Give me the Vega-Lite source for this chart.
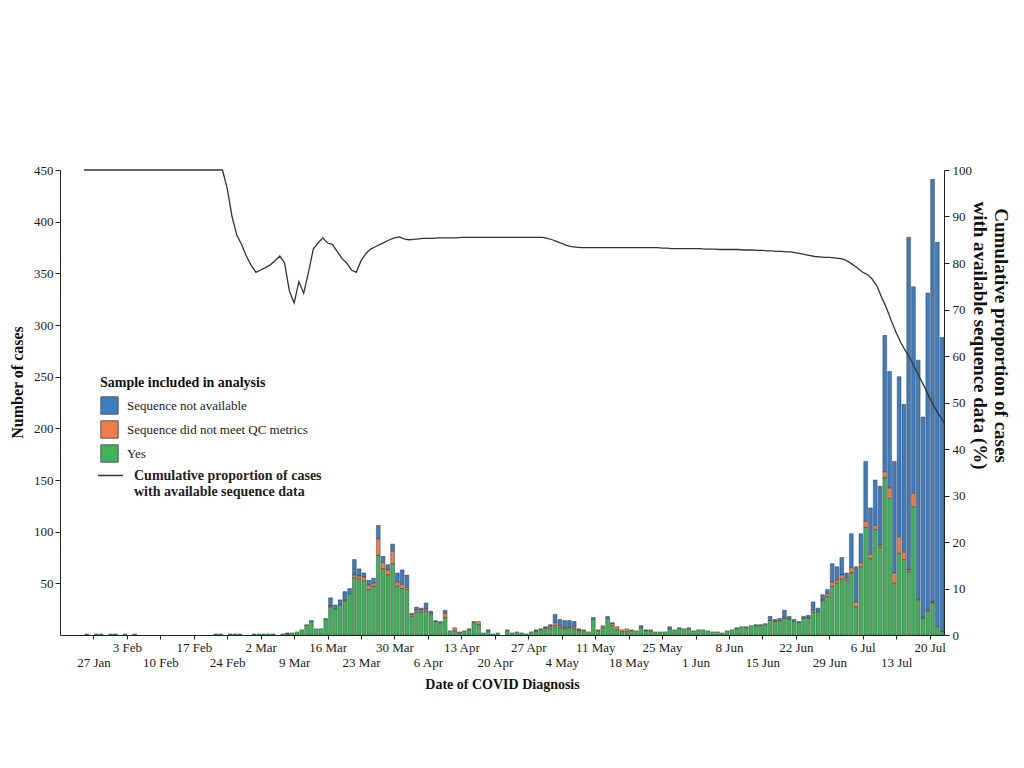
{
 "$schema": "https://vega.github.io/schema/vega-lite/v6.json",
 "width": 884,
 "height": 465,
 "autosize": {"type": "none"},
 "padding": {"left": 60, "top": 170, "right": 80, "bottom": 133},
 "background": "white",
 "config": {
  "view": {"stroke": null},
  "font": "Liberation Serif",
  "axis": {"grid": false, "domainColor": "#222", "tickColor": "#222", "labelColor": "#1a1a1a", "titleColor": "#111", "labelFont": "Liberation Serif", "titleFont": "Liberation Serif", "titleFontWeight": "bold", "labelFontSize": 13, "tickSize": 5},
  "axisX": {
   "title": "Date of COVID Diagnosis", "titleFontSize": 14, "titlePadding": 8,
   "tickSize": 4, "labelPadding": 2, "labelOverlap": false, "labelFlush": false, "labelBound": false, "labelLineHeight": 15,
   "labelExpr": "(round((datum.value - 1580083200000) / 604800000) % 2 == 0) ? ['', utcFormat(datum.value, '%-d %b')] : utcFormat(datum.value, '%-d %b')"
  },
  "legend": {"labelFont": "Liberation Serif", "titleFont": "Liberation Serif", "labelColor": "#222", "titleColor": "#111", "labelLimit": 400}
 },
 "data": {"values": [
  {"d":"2020-01-25","y":1,"q":0,"n":0,"p":100},
  {"d":"2020-01-27","y":1,"q":0,"n":0,"p":100},
  {"d":"2020-01-28","y":1,"q":0,"n":0,"p":100},
  {"d":"2020-01-30","y":1,"q":0,"n":0,"p":100},
  {"d":"2020-01-31","y":1,"q":0,"n":0,"p":100},
  {"d":"2020-02-02","y":1,"q":0,"n":0,"p":100},
  {"d":"2020-02-04","y":1,"q":0,"n":0,"p":100},
  {"d":"2020-02-21","y":1,"q":0,"n":0,"p":100},
  {"d":"2020-02-22","y":1,"q":0,"n":0,"p":100},
  {"d":"2020-02-23","y":0,"q":0,"n":0,"p":100},
  {"d":"2020-02-24","y":0,"q":0,"n":1,"p":96},
  {"d":"2020-02-25","y":1,"q":0,"n":0,"p":90},
  {"d":"2020-02-26","y":0,"q":0,"n":1,"p":86},
  {"d":"2020-02-27","y":0,"q":0,"n":0,"p":84},
  {"d":"2020-02-28","y":0,"q":0,"n":0,"p":81.5},
  {"d":"2020-02-29","y":0,"q":0,"n":1,"p":79.5},
  {"d":"2020-03-01","y":1,"q":0,"n":0,"p":78},
  {"d":"2020-03-02","y":1,"q":0,"n":0,"p":78.5},
  {"d":"2020-03-03","y":1,"q":0,"n":0,"p":79},
  {"d":"2020-03-04","y":1,"q":0,"n":0,"p":79.6},
  {"d":"2020-03-05","y":0,"q":0,"n":0,"p":80.5},
  {"d":"2020-03-06","y":0,"q":0,"n":1,"p":81.5},
  {"d":"2020-03-07","y":1,"q":0,"n":1,"p":80},
  {"d":"2020-03-08","y":2,"q":0,"n":0,"p":74},
  {"d":"2020-03-09","y":3,"q":0,"n":0,"p":71.4},
  {"d":"2020-03-10","y":5,"q":0,"n":0,"p":76},
  {"d":"2020-03-11","y":9,"q":1,"n":0,"p":73.5},
  {"d":"2020-03-12","y":13,"q":0,"n":1,"p":78},
  {"d":"2020-03-13","y":6,"q":0,"n":0,"p":83},
  {"d":"2020-03-14","y":6,"q":0,"n":0,"p":84.3},
  {"d":"2020-03-15","y":15,"q":0,"n":1,"p":85.4},
  {"d":"2020-03-16","y":27,"q":1,"n":8,"p":84.3},
  {"d":"2020-03-17","y":25,"q":0,"n":4,"p":84},
  {"d":"2020-03-18","y":29,"q":0,"n":5,"p":82.5},
  {"d":"2020-03-19","y":33,"q":1,"n":8,"p":81},
  {"d":"2020-03-20","y":40,"q":0,"n":5,"p":80},
  {"d":"2020-03-21","y":55,"q":3,"n":15,"p":78.5},
  {"d":"2020-03-22","y":54,"q":3,"n":7,"p":78},
  {"d":"2020-03-23","y":52,"q":4,"n":4,"p":80.5},
  {"d":"2020-03-24","y":44,"q":4,"n":5,"p":82},
  {"d":"2020-03-25","y":47,"q":3,"n":5,"p":83},
  {"d":"2020-03-26","y":77,"q":16,"n":13,"p":83.5},
  {"d":"2020-03-27","y":64,"q":6,"n":6,"p":84},
  {"d":"2020-03-28","y":58,"q":5,"n":5,"p":84.5},
  {"d":"2020-03-29","y":69,"q":12,"n":7,"p":85},
  {"d":"2020-03-30","y":47,"q":4,"n":9,"p":85.4},
  {"d":"2020-03-31","y":45,"q":4,"n":14,"p":85.6},
  {"d":"2020-04-01","y":44,"q":2,"n":12,"p":85.2},
  {"d":"2020-04-02","y":18,"q":2,"n":1,"p":85},
  {"d":"2020-04-03","y":22,"q":2,"n":3,"p":85.1},
  {"d":"2020-04-04","y":22,"q":2,"n":2,"p":85.2},
  {"d":"2020-04-05","y":23,"q":2,"n":6,"p":85.3},
  {"d":"2020-04-06","y":20,"q":1,"n":2,"p":85.3},
  {"d":"2020-04-07","y":13,"q":0,"n":1,"p":85.3},
  {"d":"2020-04-08","y":12,"q":1,"n":0,"p":85.4},
  {"d":"2020-04-09","y":17,"q":4,"n":3,"p":85.4},
  {"d":"2020-04-10","y":4,"q":0,"n":0,"p":85.4},
  {"d":"2020-04-11","y":4,"q":3,"n":0,"p":85.4},
  {"d":"2020-04-12","y":2,"q":1,"n":0,"p":85.4},
  {"d":"2020-04-13","y":4,"q":0,"n":0,"p":85.5},
  {"d":"2020-04-14","y":5,"q":1,"n":0,"p":85.5},
  {"d":"2020-04-15","y":12,"q":0,"n":1,"p":85.5},
  {"d":"2020-04-16","y":10,"q":3,"n":0,"p":85.5},
  {"d":"2020-04-17","y":2,"q":0,"n":0,"p":85.5},
  {"d":"2020-04-18","y":4,"q":0,"n":1,"p":85.5},
  {"d":"2020-04-19","y":1,"q":0,"n":0,"p":85.5},
  {"d":"2020-04-20","y":2,"q":0,"n":0,"p":85.5},
  {"d":"2020-04-22","y":4,"q":1,"n":0,"p":85.5},
  {"d":"2020-04-23","y":2,"q":0,"n":0,"p":85.5},
  {"d":"2020-04-24","y":3,"q":0,"n":0,"p":85.5},
  {"d":"2020-04-25","y":2,"q":0,"n":0,"p":85.5},
  {"d":"2020-04-26","y":1,"q":0,"n":0,"p":85.5},
  {"d":"2020-04-27","y":3,"q":0,"n":0,"p":85.5},
  {"d":"2020-04-28","y":3,"q":1,"n":1,"p":85.5},
  {"d":"2020-04-29","y":5,"q":1,"n":0,"p":85.5},
  {"d":"2020-04-30","y":6,"q":1,"n":1,"p":85.5},
  {"d":"2020-05-01","y":6,"q":2,"n":2,"p":85.3},
  {"d":"2020-05-02","y":9,"q":3,"n":8,"p":85},
  {"d":"2020-05-03","y":7,"q":2,"n":6,"p":84.6},
  {"d":"2020-05-04","y":6,"q":1,"n":7,"p":84.2},
  {"d":"2020-05-05","y":7,"q":1,"n":6,"p":83.8},
  {"d":"2020-05-06","y":6,"q":2,"n":5,"p":83.5},
  {"d":"2020-05-07","y":4,"q":1,"n":1,"p":83.4},
  {"d":"2020-05-08","y":4,"q":1,"n":0,"p":83.3},
  {"d":"2020-05-09","y":3,"q":0,"n":0,"p":83.3},
  {"d":"2020-05-10","y":15,"q":0,"n":2,"p":83.3},
  {"d":"2020-05-11","y":4,"q":1,"n":0,"p":83.3},
  {"d":"2020-05-12","y":7,"q":2,"n":0,"p":83.3},
  {"d":"2020-05-13","y":16,"q":0,"n":2,"p":83.3},
  {"d":"2020-05-14","y":9,"q":2,"n":1,"p":83.3},
  {"d":"2020-05-15","y":5,"q":3,"n":0,"p":83.3},
  {"d":"2020-05-16","y":3,"q":2,"n":0,"p":83.3},
  {"d":"2020-05-17","y":3,"q":3,"n":0,"p":83.3},
  {"d":"2020-05-18","y":4,"q":1,"n":0,"p":83.3},
  {"d":"2020-05-19","y":4,"q":0,"n":0,"p":83.3},
  {"d":"2020-05-20","y":7,"q":1,"n":1,"p":83.3},
  {"d":"2020-05-21","y":4,"q":0,"n":1,"p":83.3},
  {"d":"2020-05-22","y":4,"q":1,"n":0,"p":83.3},
  {"d":"2020-05-23","y":3,"q":0,"n":0,"p":83.3},
  {"d":"2020-05-24","y":3,"q":0,"n":0,"p":83.3},
  {"d":"2020-05-25","y":3,"q":0,"n":0,"p":83.2},
  {"d":"2020-05-26","y":6,"q":0,"n":2,"p":83.2},
  {"d":"2020-05-27","y":5,"q":0,"n":0,"p":83.1},
  {"d":"2020-05-28","y":6,"q":0,"n":1,"p":83.1},
  {"d":"2020-05-29","y":6,"q":0,"n":0,"p":83.1},
  {"d":"2020-05-30","y":6,"q":1,"n":0,"p":83.1},
  {"d":"2020-05-31","y":4,"q":0,"n":0,"p":83.1},
  {"d":"2020-06-01","y":5,"q":0,"n":0,"p":83.1},
  {"d":"2020-06-02","y":5,"q":0,"n":0,"p":83.1},
  {"d":"2020-06-03","y":4,"q":0,"n":0,"p":83},
  {"d":"2020-06-04","y":3,"q":0,"n":0,"p":83},
  {"d":"2020-06-05","y":3,"q":0,"n":0,"p":83},
  {"d":"2020-06-06","y":2,"q":0,"n":0,"p":82.9},
  {"d":"2020-06-07","y":4,"q":0,"n":0,"p":82.9},
  {"d":"2020-06-08","y":5,"q":0,"n":0,"p":82.9},
  {"d":"2020-06-09","y":6,"q":0,"n":1,"p":82.9},
  {"d":"2020-06-10","y":8,"q":0,"n":0,"p":82.9},
  {"d":"2020-06-11","y":7,"q":1,"n":0,"p":82.8},
  {"d":"2020-06-12","y":9,"q":0,"n":0,"p":82.8},
  {"d":"2020-06-13","y":9,"q":0,"n":1,"p":82.8},
  {"d":"2020-06-14","y":9,"q":0,"n":1,"p":82.7},
  {"d":"2020-06-15","y":10,"q":1,"n":0,"p":82.7},
  {"d":"2020-06-16","y":14,"q":0,"n":4,"p":82.6},
  {"d":"2020-06-17","y":13,"q":1,"n":1,"p":82.6},
  {"d":"2020-06-18","y":14,"q":0,"n":2,"p":82.5},
  {"d":"2020-06-19","y":16,"q":1,"n":7,"p":82.5},
  {"d":"2020-06-20","y":15,"q":1,"n":2,"p":82.4},
  {"d":"2020-06-21","y":13,"q":0,"n":2,"p":82.4},
  {"d":"2020-06-22","y":12,"q":0,"n":1,"p":82.2},
  {"d":"2020-06-23","y":16,"q":0,"n":2,"p":82},
  {"d":"2020-06-24","y":16,"q":1,"n":2,"p":81.8},
  {"d":"2020-06-25","y":22,"q":2,"n":8,"p":81.6},
  {"d":"2020-06-26","y":22,"q":1,"n":3,"p":81.4},
  {"d":"2020-06-27","y":33,"q":1,"n":5,"p":81.3},
  {"d":"2020-06-28","y":37,"q":3,"n":4,"p":81.2},
  {"d":"2020-06-29","y":47,"q":4,"n":18,"p":81.2},
  {"d":"2020-06-30","y":50,"q":3,"n":13,"p":81.1},
  {"d":"2020-07-01","y":54,"q":4,"n":17,"p":81},
  {"d":"2020-07-02","y":53,"q":2,"n":5,"p":80.8},
  {"d":"2020-07-03","y":60,"q":5,"n":33,"p":80.3},
  {"d":"2020-07-04","y":27,"q":5,"n":34,"p":79.6},
  {"d":"2020-07-05","y":66,"q":4,"n":28,"p":78.8},
  {"d":"2020-07-06","y":104,"q":6,"n":58,"p":78},
  {"d":"2020-07-07","y":74,"q":4,"n":45,"p":77.5},
  {"d":"2020-07-08","y":102,"q":4,"n":44,"p":76.5},
  {"d":"2020-07-09","y":85,"q":2,"n":57,"p":75},
  {"d":"2020-07-10","y":152,"q":6,"n":132,"p":72.5},
  {"d":"2020-07-11","y":132,"q":10,"n":113,"p":70.2},
  {"d":"2020-07-12","y":50,"q":10,"n":108,"p":67.5},
  {"d":"2020-07-13","y":79,"q":16,"n":155,"p":65},
  {"d":"2020-07-14","y":73,"q":7,"n":143,"p":62.8},
  {"d":"2020-07-15","y":61,"q":2,"n":322,"p":61},
  {"d":"2020-07-16","y":124,"q":13,"n":200,"p":59.3},
  {"d":"2020-07-17","y":34,"q":1,"n":231,"p":57.2},
  {"d":"2020-07-18","y":16,"q":1,"n":194,"p":55.2},
  {"d":"2020-07-19","y":23,"q":1,"n":307,"p":53.2},
  {"d":"2020-07-20","y":31,"q":1,"n":409,"p":51},
  {"d":"2020-07-21","y":8,"q":0,"n":372,"p":49},
  {"d":"2020-07-22","y":3,"q":0,"n":285,"p":47.3},
  {"d":"2020-07-23","y":0,"q":0,"n":0,"p":45.7}
 ]},
 "layer": [
  {
   "transform": [{"fold": ["n", "q", "y"], "as": ["k", "v"]}, {"filter": "datum.v > 0"}],
   "mark": {"type": "bar", "stroke": "#2a2a2a", "strokeWidth": 0.5, "strokeOpacity": 0.85},
   "encoding": {
    "x": {
     "field": "d", "timeUnit": "utcyearmonthdate", "type": "temporal",
     "scale": {"type": "utc", "domain": [{"year": 2020, "month": 1, "date": 20, "utc": true}, {"year": 2020, "month": 7, "date": 23, "utc": true}]},
     "axis": {
      "title": "Date of COVID Diagnosis",
      "values": [
       {"year":2020,"month":1,"date":27,"utc":true},{"year":2020,"month":2,"date":3,"utc":true},{"year":2020,"month":2,"date":10,"utc":true},{"year":2020,"month":2,"date":17,"utc":true},{"year":2020,"month":2,"date":24,"utc":true},
       {"year":2020,"month":3,"date":2,"utc":true},{"year":2020,"month":3,"date":9,"utc":true},{"year":2020,"month":3,"date":16,"utc":true},{"year":2020,"month":3,"date":23,"utc":true},{"year":2020,"month":3,"date":30,"utc":true},
       {"year":2020,"month":4,"date":6,"utc":true},{"year":2020,"month":4,"date":13,"utc":true},{"year":2020,"month":4,"date":20,"utc":true},{"year":2020,"month":4,"date":27,"utc":true},
       {"year":2020,"month":5,"date":4,"utc":true},{"year":2020,"month":5,"date":11,"utc":true},{"year":2020,"month":5,"date":18,"utc":true},{"year":2020,"month":5,"date":25,"utc":true},
       {"year":2020,"month":6,"date":1,"utc":true},{"year":2020,"month":6,"date":8,"utc":true},{"year":2020,"month":6,"date":15,"utc":true},{"year":2020,"month":6,"date":22,"utc":true},{"year":2020,"month":6,"date":29,"utc":true},
       {"year":2020,"month":7,"date":6,"utc":true},{"year":2020,"month":7,"date":13,"utc":true},{"year":2020,"month":7,"date":20,"utc":true}
      ]
     }
    },
    "y": {
     "field": "v", "type": "quantitative", "stack": "zero",
     "scale": {"domain": [0, 450], "nice": false},
     "axis": {"title": "Number of cases", "titleFontSize": 16, "titleY": 212, "titlePadding": 8, "labelPadding": 2, "values": [50, 100, 150, 200, 250, 300, 350, 400, 450]}
    },
    "fill": {
     "field": "k", "type": "nominal",
     "scale": {"domain": ["n", "q", "y"], "range": ["#3d7dc2", "#ef7d45", "#3fb35a"]},
     "legend": {
      "title": "Sample included in analysis", "orient": "none", "legendX": 40, "legendY": 206,
      "symbolType": "square", "symbolSize": 300, "symbolStrokeColor": "#555", "symbolStrokeWidth": 1, "symbolOpacity": 1,
      "titleFontSize": 14, "titleFontWeight": "bold", "titlePadding": 6, "labelFontSize": 13, "labelOffset": 8, "rowPadding": 1,
      "labelExpr": "datum.label == 'n' ? 'Sequence not available' : datum.label == 'q' ? 'Sequence did not meet QC metrics' : 'Yes'"
     }
    },
    "order": {"field": "k", "sort": "descending"}
   }
  },
  {
   "mark": {"type": "line", "strokeWidth": 1.3},
   "encoding": {
    "x": {
     "field": "d", "timeUnit": "utcyearmonthdate", "bandPosition": 0, "type": "temporal",
     "axis": {
      "title": "Date of COVID Diagnosis",
      "values": [
       {"year":2020,"month":1,"date":27,"utc":true},{"year":2020,"month":2,"date":3,"utc":true},{"year":2020,"month":2,"date":10,"utc":true},{"year":2020,"month":2,"date":17,"utc":true},{"year":2020,"month":2,"date":24,"utc":true},
       {"year":2020,"month":3,"date":2,"utc":true},{"year":2020,"month":3,"date":9,"utc":true},{"year":2020,"month":3,"date":16,"utc":true},{"year":2020,"month":3,"date":23,"utc":true},{"year":2020,"month":3,"date":30,"utc":true},
       {"year":2020,"month":4,"date":6,"utc":true},{"year":2020,"month":4,"date":13,"utc":true},{"year":2020,"month":4,"date":20,"utc":true},{"year":2020,"month":4,"date":27,"utc":true},
       {"year":2020,"month":5,"date":4,"utc":true},{"year":2020,"month":5,"date":11,"utc":true},{"year":2020,"month":5,"date":18,"utc":true},{"year":2020,"month":5,"date":25,"utc":true},
       {"year":2020,"month":6,"date":1,"utc":true},{"year":2020,"month":6,"date":8,"utc":true},{"year":2020,"month":6,"date":15,"utc":true},{"year":2020,"month":6,"date":22,"utc":true},{"year":2020,"month":6,"date":29,"utc":true},
       {"year":2020,"month":7,"date":6,"utc":true},{"year":2020,"month":7,"date":13,"utc":true},{"year":2020,"month":7,"date":20,"utc":true}
      ]
     }
    },
    "y": {
     "field": "p", "type": "quantitative",
     "scale": {"domain": [0, 100], "nice": false},
     "axis": {"orient": "right", "values": [0, 10, 20, 30, 40, 50, 60, 70, 80, 90, 100], "title": ["Cumulative proportion of cases", "with available sequence data (%)"], "titleFontSize": 19, "titleLineHeight": 21, "titleY": 165, "titlePadding": -2, "labelPadding": 3}
    },
    "stroke": {
     "datum": "cum", "type": "nominal",
     "scale": {"range": ["#333333"]},
     "legend": {
      "title": null, "orient": "none", "legendX": 37, "legendY": 292,
      "symbolType": "stroke", "symbolSize": 625, "symbolStrokeWidth": 1.5,
      "labelFontSize": 14, "labelFontWeight": "bold", "labelOffset": 10,
      "labelExpr": "['Cumulative proportion of cases', 'with available sequence data']"
     }
    }
   }
  }
 ],
 "resolve": {"scale": {"y": "independent"}}
}
